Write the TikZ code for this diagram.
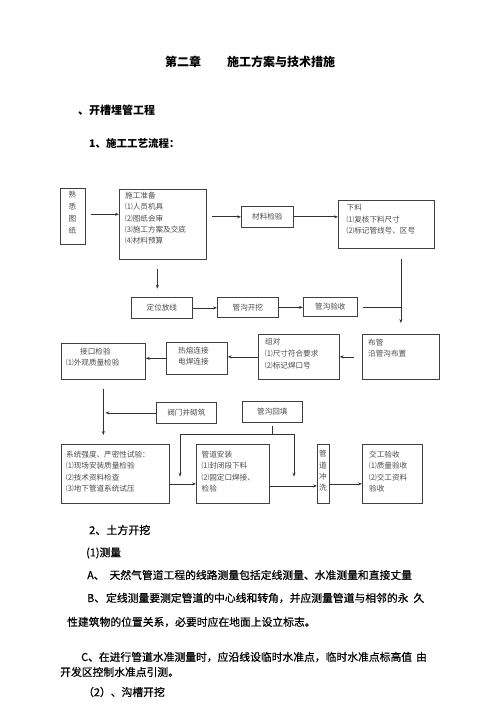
\documentclass[tikz,border=0pt]{standalone}
\usepackage{fontspec}
\setmainfont{Noto Sans CJK SC}
\newfontfamily\medfont{Noto Sans CJK SC}[FakeBold=0.6]
\usetikzlibrary{arrows.meta,calc}
\begin{document}
\begin{tikzpicture}[x=1pt,y=-1pt,
  bx/.style={draw=black!75,line width=0.7pt,inner sep=0pt,anchor=north west,text=black!70,font=\fontsize{7.6}{11}\selectfont},
  tx/.style={inner sep=0pt,anchor=north west,align=left,text=black!70,font=\fontsize{7.6}{11.2}\selectfont},
  vt/.style={inner sep=0pt,anchor=north,align=center,text=black!70},
  arr/.style={draw=black!80,line width=0.7pt,-{Stealth[length=4pt,width=3pt]}},
  ln/.style={draw=black!80,line width=0.7pt},
  body/.style={inner sep=0pt,anchor=west,font=\fontsize{10.8}{13}\medfont},
  head/.style={inner sep=0pt,anchor=west,font=\fontsize{11}{13}\medfont}]
\useasboundingbox[fill=white] (0,0) rectangle (500,708);

% headings
\node[inner sep=0pt,anchor=west,font=\fontsize{12}{14}\selectfont\bfseries] (t1) at (165,62) {第二章};
\node[inner sep=0pt,anchor=west,font=\fontsize{12}{14}\selectfont\bfseries] (t2) at (227,62) {施工方案与技术措施};
\node[head,font=\fontsize{11}{13}\selectfont\bfseries] (h1) at (78,110) {、开槽埋管工程};
\node[head,font=\fontsize{10.5}{13}\selectfont\bfseries] (h2) at (89,143) {1、施工工艺流程：};

% boxes
\node[bx,minimum width=25,minimum height=56] (A) at (60,188) {};
\node[vt,font=\fontsize{7.6}{12}\selectfont] (At) at (72.5,191) {熟\\悉\\图\\纸};
\node[bx,minimum width=87,minimum height=70] (B) at (119,189) {};
\node[tx] (Bt) at (125,192) {施工准备\\⑴人员机具\\⑵图纸会审\\⑶施工方案及交底\\⑷材料预算};
\node[bx,minimum width=52,minimum height=21] (C) at (241,206) {材料检验};
\node[bx,minimum width=96,minimum height=48] (D) at (338,200) {};
\node[tx,font=\fontsize{7.6}{11.7}\selectfont] (Dt) at (346.5,204) {下料\\⑴复核下料尺寸\\⑵标记管线号、区号};

\node[bx,minimum width=61,minimum height=21] (E) at (131,297) {定位放线};
\node[bx,minimum width=61,minimum height=20] (F) at (217,297) {管沟开挖};
\node[bx,minimum width=54,minimum height=19] (G) at (303,297) {管沟验收};

\node[bx,minimum width=77,minimum height=45] (H) at (362,334) {};
\node[tx] (Ht) at (368,339) {布管\\沿管沟布置};
\node[bx,minimum width=81,minimum height=45] (I) at (258,334) {};
\node[tx,font=\fontsize{7.6}{12}\selectfont] (It) at (265,337.5) {组对\\⑴尺寸符合要求\\⑵标记焊口号};
\node[bx,minimum width=61,minimum height=32] (J) at (166,342) {};
\node[tx] (Jt) at (178,347) {热熔连接\\电焊连接};
\node[bx,minimum width=84,minimum height=36] (K) at (61,343) {};
\node[tx] (Kt) at (66,347.5) {\hspace*{14pt}接口检验\\⑴外观质量检验};

\node[bx,minimum width=60,minimum height=21] (L) at (156,402) {阀门井砌筑};
\node[bx,minimum width=60,minimum height=21] (M) at (242,401) {管沟回填};

\node[bx,minimum width=108,minimum height=59] (N) at (61,444) {};
\node[tx] (Nt) at (66,451) {系统强度、严密性试验：\\⑴现场安装质量检验\\⑵技术资料检查\\⑶地下管道系统试压};
\node[bx,minimum width=73,minimum height=59] (O) at (196,444) {};
\node[tx] (Ot) at (201.5,451) {管道安装\\⑴封闭段下料\\⑵固定口焊接、\\检验};
\node[bx,minimum width=12,minimum height=59] (P) at (317,444) {};
\node[vt,font=\fontsize{7.6}{11.4}\selectfont] (Pt) at (323,450) {管\\道\\冲\\洗};
\node[bx,minimum width=60,minimum height=59] (Q) at (362,444) {};
\node[tx] (Qt) at (369,451) {交工验收\\⑴质量验收\\⑵交工资料\\验收};

% connectors
\draw[arr] ($(A.east)+(5,-2)$) -- ($(B.west)+(0,-10)$);
\draw[arr] ($(B.east |- C.west)+(5,0)$) -- (C.west);
\draw[arr] (C.east) -- (C.east -| D.west);
\draw[arr] ($(H.north |- D.south)+(0,10)$) -- ($(H.north)+(0,-11)$);
\draw[ln] ($(G.east)+(5,0)$) -- (G.east -| H.north);
\draw[arr] ($(B.south)+(-5.5,9)$) -- ++(0,20);
\draw[arr] (E.east) -- (E.east -| F.west);
\draw[arr] (F.east) -- (F.east -| G.west);
\draw[arr] ($(H.west)+(-8,0)$) -- (H.west -| I.east);
\draw[arr] (I.west) -- (I.west -| J.east);
\draw[arr] (J.west) -- (J.west -| K.east);
\draw[arr] ($(K.south)+(0,9)$) -- ($(K.south |- N.north)+(0,-9)$);
\draw[arr] (L.west) -- ($(L.west -| K.south)+(2,0)$);
\coordinate (jl) at (180,434);
\coordinate (jr) at (294,434);
\draw[ln] ($(M.south)+(0,3)$) -- (M.south |- jl);
\draw[ln] (jl) -- (jr);
\draw[arr] (jl) -- ($(jl |- N.south)+(0,-27)$);
\draw[arr] (jr) -- ($(jr |- N.south)+(0,-27)$);
\draw[arr] ($(N.east)+(0,10)$) -- ($(O.west)+(0,10)$);
\draw[arr] ($(O.east)+(0,12)$) -- ($(P.west)+(0,12)$);
\draw[arr] ($(P.east)+(0,10)$) -- ($(Q.west)+(0,10)$);

% body text
\node[head] (s2) at (89,530) {2、土方开挖};
\node[body] (s3) at (86,553) {(1)测量};
\node[body] (pa) at (87,575) {A、\hspace{5pt}天然气管道工程的线路测量包括定线测量、水准测量和直接丈量};
\node[body] (pb) at (87,598) {B、\hspace{1pt}定线测量要测定管道的中心线和转角，并应测量管道与相邻的永\hspace{5pt}久};
\node[body] (pb2) at (67,622) {性建筑物的位置关系，必要时应在地面上设立标志。};
\node[body] (pc) at (81,657) {C、在进行管道水准测量时，应沿线设临时水准点，临时水准点标高值\hspace{4pt}由};
\node[body] (pc2) at (60,672) {开发区控制水准点引测。};
\node[body] (s4) at (83,692) {（2）、沟槽开挖};
\end{tikzpicture}
\end{document}
